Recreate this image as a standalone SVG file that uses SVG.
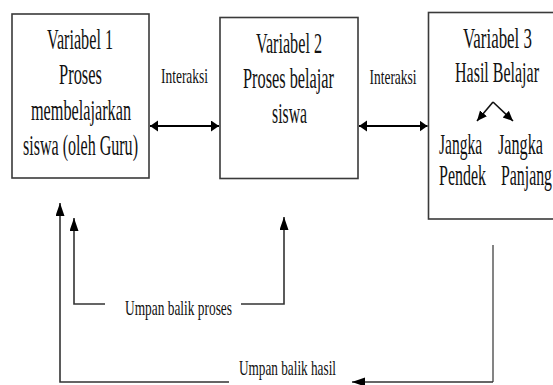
<svg xmlns="http://www.w3.org/2000/svg" width="553" height="385" viewBox="0 0 553 385" font-family="'Liberation Serif', 'Times New Roman', 'DejaVu Serif', serif">
<style>
text{font-family:'Liberation Serif','Times New Roman','DejaVu Serif',serif;fill:#111}
.box{fill:#fff;stroke:#3a3a3a;stroke-width:1.6}
.t{font-size:29px}
.s{font-size:22px}
.u{font-size:21px}
.dbl{stroke:#000;stroke-width:2.2;fill:none;marker-start:url(#ah);marker-end:url(#ah)}
.fb{stroke:#333;stroke-width:1.6;fill:none;marker-end:url(#ah2)}
.sm{stroke:#111;stroke-width:1.6;fill:none;marker-end:url(#ah3)}
</style>
<defs>
<marker id="ah" markerUnits="userSpaceOnUse" markerWidth="10" markerHeight="12" refX="8" refY="5.5" orient="auto-start-reverse"><path d="M0,0 L8,5.5 L0,11 z" fill="#000"/></marker>
<marker id="ah2" markerUnits="userSpaceOnUse" markerWidth="14" markerHeight="10" refX="13" refY="4.5" orient="auto"><path d="M0,0 L13,4.5 L0,9 z" fill="#000"/></marker>
<marker id="ah3" markerUnits="userSpaceOnUse" markerWidth="12" markerHeight="10" refX="10" refY="4.5" orient="auto"><path d="M0,0 L10,4.5 L0,9 z" fill="#000"/></marker>
</defs>
<rect width="553" height="385" fill="#fff"/>
<g id="var1">
<rect class="box" x="12" y="14" width="137" height="164"/>
<text class="t" x="47" y="49" textLength="66" lengthAdjust="spacingAndGlyphs">Variabel 1</text>
<text class="t" x="59" y="84" textLength="43" lengthAdjust="spacingAndGlyphs">Proses</text>
<text class="t" x="31" y="120" textLength="100" lengthAdjust="spacingAndGlyphs">membelajarkan</text>
<text class="t" x="23" y="155" textLength="115" lengthAdjust="spacingAndGlyphs">siswa (oleh Guru)</text>
</g>
<g id="var2">
<rect class="box" x="220" y="17.5" width="138" height="161"/>
<text class="t" x="256" y="53" textLength="66" lengthAdjust="spacingAndGlyphs">Variabel 2</text>
<text class="t" x="243" y="88" textLength="91" lengthAdjust="spacingAndGlyphs">Proses belajar</text>
<text class="t" x="272" y="123" textLength="35" lengthAdjust="spacingAndGlyphs">siswa</text>
</g>
<g id="var3">
<rect class="box" x="428.5" y="12.5" width="130" height="206.5"/>
<text class="t" x="463" y="48" textLength="69" lengthAdjust="spacingAndGlyphs">Variabel 3</text>
<text class="t" x="455" y="82" textLength="84" lengthAdjust="spacingAndGlyphs">Hasil Belajar</text>
<path class="sm" d="M493,102 L477,121"/>
<path class="sm" d="M493,102 L513,121"/>
<text class="t" x="439" y="154" textLength="43" lengthAdjust="spacingAndGlyphs">Jangka</text>
<text class="t" x="498" y="154" textLength="45" lengthAdjust="spacingAndGlyphs">Jangka</text>
<text class="t" x="439" y="185" textLength="47" lengthAdjust="spacingAndGlyphs">Pendek</text>
<text class="t" x="501" y="185" textLength="51" lengthAdjust="spacingAndGlyphs">Panjang</text>
</g>
<g id="connectors">
<line class="dbl" x1="150" y1="126" x2="219" y2="126"/>
<line class="dbl" x1="359" y1="126" x2="427.5" y2="126"/>
<text class="s" x="161" y="83" textLength="47" lengthAdjust="spacingAndGlyphs">Interaksi</text>
<text class="s" x="369.5" y="84" textLength="47" lengthAdjust="spacingAndGlyphs">Interaksi</text>
<path class="fb" d="M105,304 L74,304 L74,218"/>
<path class="fb" d="M241,304 L284,304 L284,217"/>
<text class="u" x="125" y="315" textLength="107" lengthAdjust="spacingAndGlyphs">Umpan balik proses</text>
<path class="fb" d="M229,382 L60,382 L60,203"/>
<path d="M493,245 L493,382" stroke="#777" stroke-width="1.8" fill="none"/>
<path class="fb" d="M493,382 L352,382"/>
<text class="u" x="239" y="375" textLength="97" lengthAdjust="spacingAndGlyphs">Umpan balik hasil</text>
</g>
</svg>
